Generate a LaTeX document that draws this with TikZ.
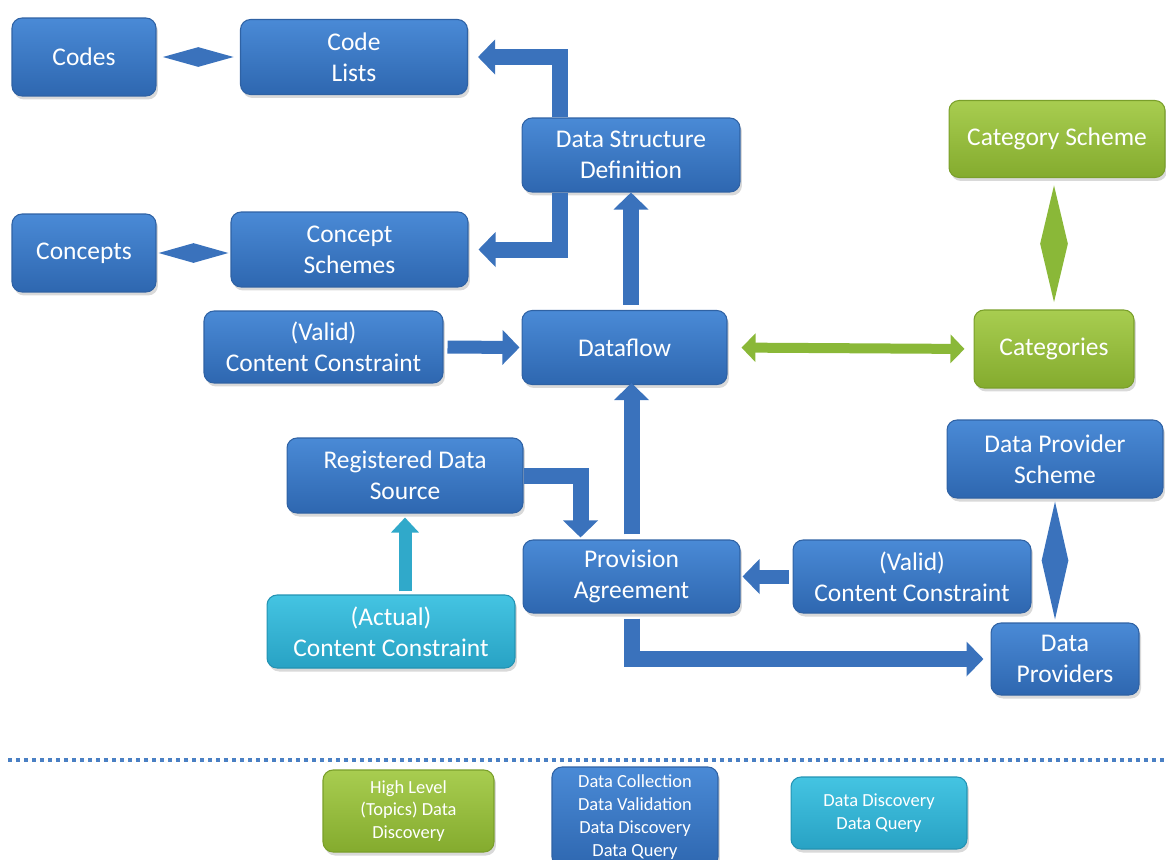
\documentclass[tikz,border=0pt]{standalone}
\usepackage{fontspec}
\setmainfont{Carlito}
\usepackage{tikz}
\usetikzlibrary{shapes.geometric}
\usetikzlibrary{arrows.meta}
\usetikzlibrary{shadows}
\usetikzlibrary{positioning}

\definecolor{bluetop}{HTML}{4A8AD6}
\definecolor{bluebot}{HTML}{2E67B0}
\definecolor{blueedge}{HTML}{2F62A4}
\definecolor{greentop}{HTML}{A8CD50}
\definecolor{greenbot}{HTML}{84AB2E}
\definecolor{greenedge}{HTML}{7A9F2A}
\definecolor{cyantop}{HTML}{44C4E2}
\definecolor{cyanbot}{HTML}{28A2C4}
\definecolor{cyanedge}{HTML}{2393B3}
\definecolor{arrowblue}{HTML}{3A72BC}
\definecolor{arrowgreen}{HTML}{8AB838}
\definecolor{arrowcyan}{HTML}{30A9CA}
\definecolor{dotblue}{HTML}{4A80C4}

\begin{document}
\begin{tikzpicture}[x=0.02cm, y=-0.02cm,
    box/.style={rounded corners=0.2cm, align=center, text=white, inner sep=0pt,
        font=\fontsize{14.5}{17.5}\selectfont, line width=0.6pt,
        drop shadow={opacity=0.3, shadow xshift=0.04cm, shadow yshift=-0.07cm}},
    bluebox/.style={box, draw=blueedge, top color=bluetop, bottom color=bluebot},
    greenbox/.style={box, draw=greenedge, top color=greentop, bottom color=greenbot},
    cyanbox/.style={box, draw=cyanedge, top color=cyantop, bottom color=cyanbot},
    legend/.style={font=\fontsize{10.5}{13}\selectfont},
    bluearrow/.style={draw=arrowblue, line width=0.32cm, line join=miter,
        -{Triangle[length=0.34cm, width=0.68cm]}},
    cyanarrow/.style={draw=arrowcyan, line width=0.26cm,
        -{Triangle[length=0.3cm, width=0.54cm]}},
    greenarrow/.style={draw=arrowgreen, line width=0.2cm,
        {Triangle[length=0.28cm, width=0.56cm]}-{Triangle[length=0.28cm, width=0.56cm]}},
    bluelink/.style={diamond, fill=arrowblue, inner sep=0pt},
    greenlink/.style={diamond, fill=arrowgreen, inner sep=0pt}]

    \useasboundingbox (0,0) rectangle (1166,859);

    % structure part
    \node(codes)[bluebox, minimum width=2.88cm, minimum height=1.56cm] at (84,57) {Codes};
    \node(codelists)[bluebox, minimum width=4.54cm, minimum height=1.5cm] at (354,57) {Code\\Lists};
    \node(dsd)[bluebox, minimum width=4.36cm, minimum height=1.48cm] at (631,155) {Data Structure\\Definition};
    \node(concepts)[bluebox, minimum width=2.88cm, minimum height=1.56cm] at (84,253) {Concepts};
    \node(conceptschemes)[bluebox, minimum width=4.74cm, minimum height=1.5cm] at (349.5,249.5) {Concept\\Schemes};

    % categorisation
    \node(catscheme)[greenbox, minimum width=4.32cm, minimum height=1.54cm] at (1057,139) {Category Scheme};
    \node(categories)[greenbox, minimum width=3.2cm, minimum height=1.56cm] at (1054,349) {Categories};

    % dataflow and provision
    \node(validtop)[bluebox, minimum width=4.78cm, minimum height=1.44cm] at (323.5,347) {(Valid)\\Content Constraint};
    \node(dataflow)[bluebox, minimum width=4.1cm, minimum height=1.48cm] at (624.5,347.5) {Dataflow};
    \node(rds)[bluebox, minimum width=4.72cm, minimum height=1.5cm] at (405,475.5) {Registered Data\\Source};
    \node(dps)[bluebox, minimum width=4.32cm, minimum height=1.56cm] at (1055,459) {Data Provider\\Scheme};
    \node(pa)[bluebox, minimum width=4.34cm, minimum height=1.46cm] at (631.5,576.5) {Provision\\Agreement};
    \node(validbot)[bluebox, minimum width=4.76cm, minimum height=1.46cm] at (912,576.5) {(Valid)\\Content Constraint};
    \node(actualcc)[cyanbox, minimum width=4.96cm, minimum height=1.46cm] at (391,631.5) {(Actual)\\Content Constraint};
    \node(dp)[bluebox, minimum width=2.96cm, minimum height=1.44cm] at (1065,659) {Data\\Providers};

    % links
    \path (codes.east) -- (codelists.west) node[bluelink, midway, minimum width=1.42cm, minimum height=0.4cm]{};
    \path (concepts.east) -- (concepts.east -| conceptschemes.west) node[bluelink, midway, minimum width=1.4cm, minimum height=0.4cm]{};
    \path (categories.north) -- (categories.north |- catscheme.south) node[greenlink, midway, minimum width=0.56cm, minimum height=2.34cm]{};
    \path (dps.south) -- (dps.south |- dp.north) node[bluelink, midway, minimum width=0.54cm, minimum height=2.36cm]{};

    \draw[bluearrow] ([xshift=-1.42cm]dsd.north) |- ([xshift=0.2cm]codelists.east);
    \draw[bluearrow] ([xshift=-1.42cm]dsd.south) |- ([xshift=0.2cm]conceptschemes.east);
    \draw[bluearrow, shorten <=0.1cm] (dsd.south |- dataflow.north) -- (dsd.south);
    \draw[bluearrow, line width=0.26cm, shorten <=0.08cm, shorten >=0.04cm] (validtop.east) -- (dataflow.west);
    \draw[greenarrow, shorten <=0.28cm, shorten >=0.18cm] (dataflow.east) -- (categories.west);
    \draw[bluearrow, shorten <=0.1cm, shorten >=-0.04cm] (pa.north) -- (pa.north |- dataflow.south);
    \draw[bluearrow] (rds.east) -| ([xshift=-1.02cm, yshift=0.04cm]pa.north);
    \draw[cyanarrow, shorten <=0.06cm] (rds.south |- actualcc.north) -- ([yshift=-0.08cm]rds.south);
    \draw[bluearrow, line width=0.28cm, shorten <=0.08cm, shorten >=0.04cm] (validbot.west) -- (pa.east);
    \draw[bluearrow] ([yshift=-0.1cm]pa.south) |- ([xshift=-0.14cm]dp.west);

    % legend
    \draw[dotblue, line width=0.09cm, dash pattern=on 0.09cm off 0.07cm] (8,760) -- (1166,760);
    \node(leggreen)[greenbox, legend, minimum width=3.42cm, minimum height=1.64cm] at (408.5,811) {High Level\\(Topics) Data\\Discovery};
    \node(legblue)[bluebox, legend, minimum width=3.32cm, minimum height=2.0cm] at (635,817) {Data Collection\\Data Validation\\Data Discovery\\Data Query};
    \node(legcyan)[cyanbox, legend, minimum width=3.52cm, minimum height=1.44cm] at (879,813) {Data Discovery\\Data Query};

\end{tikzpicture}
\end{document}
